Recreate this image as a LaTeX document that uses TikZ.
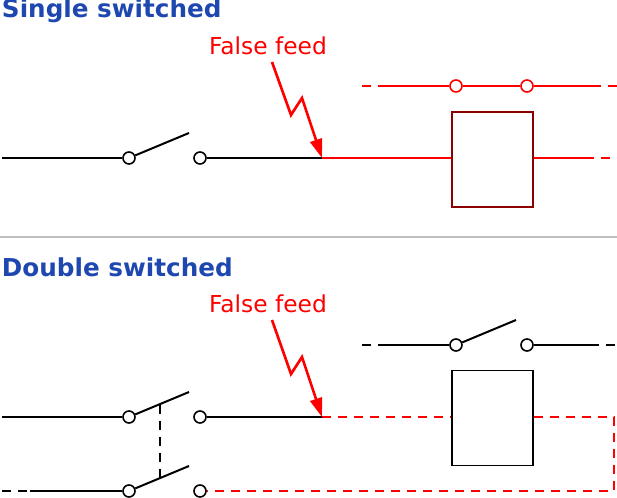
\documentclass[tikz,border=0pt]{standalone}
\usepackage{fontspec}
\setmainfont{DejaVu Sans}
\usetikzlibrary{arrows.meta}
\definecolor{titleblue}{HTML}{1F47B0}
\definecolor{boxred}{HTML}{8B0000}
\begin{document}
\begin{tikzpicture}[
    x=0.75pt, y=-0.75pt,
    line width=1.5pt,
    >={Triangle[length=5mm, width=3.2mm]},
    title/.style={anchor=west, font=\fontsize{18.5}{22}\selectfont\bfseries, text=titleblue, inner sep=0pt},
    feed/.style={font=\fontsize{17.5}{20}\selectfont, text=red, inner sep=0pt},
    term/.style={circle, draw, fill=white, line width=1.2pt, minimum size=9pt, inner sep=0pt},
    relay/.style={draw, line width=1.2pt, minimum width=60.75pt, minimum height=71pt, inner sep=0pt},
    dashline/.style={dash pattern=on 7pt off 5pt},
    zap/.style={->, red, line width=2pt}
]
\useasboundingbox (0,0) rectangle (617,498);
% single switched
\node[title] (t1) at (1,11) {Single switched};
\node[feed] (f1) at (268,46) {False feed};
\node[term] (a1) at (129,158) {};
\node[term] (b1) at (200,158) {};
\coordinate (s1) at (2,158);
\coordinate (k1) at (189,133);
\coordinate (p1) at (322,158);
\node[relay, draw=boxred] (r1) at (492.5,159.5) {};
\coordinate (o1) at (585,158);
\coordinate (e1) at (617,158);
\node[term, draw=red] (c1) at (456,86) {};
\node[term, draw=red] (d1) at (527,86) {};
\coordinate (u1) at (362,86);
\coordinate (v1) at (385,86);
\coordinate (w1) at (592,86);
\coordinate (x1) at (617,86);
\draw (s1) -- (a1);
\draw (a1) -- (k1);
\draw (b1) -- (p1);
\draw[red] (p1) -- (r1.west |- p1);
\draw[red] (r1.east |- o1) -- (o1);
\draw[red, dashline] (o1) -- (e1);
\draw[red, dashline] (u1) -- (v1);
\draw[red] (v1) -- (c1) -- (d1) -- (w1);
\draw[red, dashline] (w1) -- (x1);
\draw[zap] (272,62) -- (291,115) -- (302,98) -- (p1);
% separator
\draw[gray!50, line width=1.2pt] (0,237) -- (617,237);
% double switched
\node[title] (t2) at (1,267) {Double switched};
\node[feed] (f2) at (268,304) {False feed};
\node[term] (a2) at (129,417) {};
\node[term] (b2) at (200,417) {};
\node[term] (a3) at (129,491) {};
\node[term] (b3) at (200,491) {};
\coordinate (s2) at (2,417);
\coordinate (k2) at (189,392);
\coordinate (p2) at (322,417);
\coordinate (s3) at (2,491);
\coordinate (m3) at (30,491);
\coordinate (k3) at (189,466);
\coordinate (g2) at (160,405);
\coordinate (g3) at (160,479);
\node[relay] (r2) at (492.5,418) {};
\coordinate (q2) at (614,417);
\coordinate (q3) at (614,491);
\node[term] (c2) at (456,345) {};
\node[term] (d2) at (527,345) {};
\coordinate (k4) at (516,320);
\coordinate (u2) at (362,345);
\coordinate (v2) at (385,345);
\coordinate (w2) at (590,345);
\coordinate (x2) at (617,345);
\draw (s2) -- (a2);
\draw (a2) -- (k2);
\draw (b2) -- (p2);
\draw[dashline] (s3) -- (m3);
\draw (m3) -- (a3);
\draw (a3) -- (k3);
\draw[dashline, line width=1.2pt] (g2) -- (g3);
\draw[red, dashline] (p2) -- (r2.west |- p2);
\draw[red, dashline] (r2.east |- q2) -- (q2) -- (q3) -- (b3);
\draw[dashline] (u2) -- (v2);
\draw (v2) -- (c2);
\draw (c2) -- (k4);
\draw (d2) -- (w2);
\draw[dashline] (w2) -- (x2);
\draw[zap] (272,320) -- (291,374) -- (302,357) -- (p2);
\end{tikzpicture}
\end{document}
